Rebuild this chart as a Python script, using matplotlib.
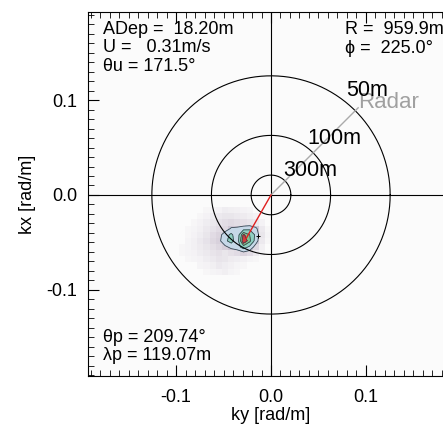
import numpy as np
import matplotlib.pyplot as plt
from matplotlib.colors import LinearSegmentedColormap, ListedColormap
from matplotlib.ticker import MultipleLocator

plt.rcParams['font.family'] = ['Liberation Sans', 'DejaVu Sans']

# wavelengths of the reference circles [m]
circle_wl = [50, 100, 300]
circle_lbl_pos = [(0.079, 0.110), (0.038, 0.060), (0.0125, 0.0255)]

# spectrum grid (ky columns, kx rows), energy in % of peak
ky_c = [-0.094, -0.0875, -0.081, -0.0745, -0.068, -0.0615, -0.055, -0.0485,
        -0.042, -0.0355, -0.029, -0.0225, -0.016, -0.0095, -0.003]
kx_c = [-0.081, -0.0745, -0.068, -0.0615, -0.055, -0.0485, -0.042,
        -0.0355, -0.029, -0.0225, -0.016]
energy = np.array([
    [0, 0, 0, 0, 3, 4, 5, 7, 4, 3, 0, 0, 0, 0, 0],
    [0, 0, 0, 4, 5, 7, 10, 8, 6, 4, 3, 0, 0, 0, 0],
    [0, 3, 4, 5, 8, 10, 13, 12, 9, 8, 6, 4, 3, 0, 0],
    [3, 4, 5, 8, 10, 13, 15, 12, 15, 18, 22, 18, 10, 4, 0],
    [3, 4, 6, 9, 12, 16, 20, 25, 35, 40, 60, 45, 20, 6, 0],
    [0, 4, 6, 10, 14, 20, 24, 45, 58, 38, 100, 75, 40, 10, 3],
    [0, 3, 5, 8, 12, 18, 22, 40, 55, 35, 88, 70, 45, 12, 4],
    [0, 3, 4, 6, 10, 14, 18, 20, 32, 34, 40, 45, 35, 10, 3],
    [0, 0, 3, 5, 8, 11, 14, 17, 19, 17, 15, 13, 10, 5, 0],
    [0, 0, 0, 3, 5, 8, 10, 12, 12, 10, 9, 7, 5, 0, 0],
    [0, 0, 0, 0, 3, 4, 5, 8, 7, 6, 5, 4, 0, 0, 0],
])

# summary parameters
adep = 18.20
u_cur = 0.31
theta_u = 171.5
rng = 959.9
phi = 225.0
theta_p = 209.74
lambda_p = 119.07

fig = plt.figure(figsize=(4.43, 4.24), dpi=100)
ax = fig.add_axes([88 / 443, 48 / 424, 366 / 443, 364 / 424])
ax.set_facecolor('#fbfbfb')

ky = np.array(ky_c)
kx = np.array(kx_c)
bg_cmap = LinearSegmentedColormap.from_list('bg', ['#fbfbfb', '#cfc6d4'])
ax.pcolormesh(ky, kx, np.clip(energy, 0, 30), cmap=bg_cmap, shading='nearest',
              vmin=0, vmax=30, zorder=1)
levels = [30, 50, 70, 85, 101]
fill_cmap = ListedColormap(['#c6d8e8', '#8fd0c2', '#80c48e', '#d43c3c'])
ax.contourf(ky, kx, energy, levels=levels, cmap=fill_cmap, zorder=2)
ax.contour(ky, kx, energy, levels=levels[:-1], colors='#3a4450', linewidths=0.6, zorder=3)
ax.plot(-0.0137, -0.043, marker='+', color='k', ms=3, mew=0.7, zorder=4)

# cross hair and circles
ax.axhline(0, color='k', lw=0.8, zorder=5)
ax.axvline(0, color='k', lw=0.8, zorder=5)
t = np.linspace(0, 2 * np.pi, 400)
for wl, (lx, ly) in zip(circle_wl, circle_lbl_pos):
    k = 2 * np.pi / wl
    ax.plot(k * np.cos(t), k * np.sin(t), color='k', lw=0.8, zorder=5)
    ax.text(lx, ly, f'{wl}m', fontsize=15.5, ha='left', va='center', zorder=7)

# radar direction
r_len = 0.13
a = np.deg2rad(phi - 180)
ax.plot([0, r_len * np.sin(a)], [0, r_len * np.cos(a)], color='#aaaaaa', lw=1.0, zorder=6)
ax.text(0.092, 0.098, 'Radar', color='#a0a0a0', fontsize=16, ha='left', va='center', zorder=6)

# peak direction
kp = 2 * np.pi / lambda_p
tp = np.deg2rad(theta_p)
ax.plot([0, kp * np.sin(tp)], [0, kp * np.cos(tp)], color='#e02020', lw=1.0, zorder=6)

fs = 13
tx = ax.transAxes
ax.text(0.041, 0.951, f'ADep =  {adep:.2f}m', transform=tx, fontsize=fs, va='center')
ax.text(0.041, 0.902, f'U =   {u_cur:.2f}m/s', transform=tx, fontsize=fs, va='center')
ax.text(0.041, 0.851, f'\u03b8u = {theta_u:.1f}\u00b0', transform=tx, fontsize=fs, va='center')
ax.text(0.702, 0.951, f'R =  {rng:.1f}m', transform=tx, fontsize=fs, va='center')
ax.text(0.702, 0.900, f'\u03d5 =  {phi:.1f}\u00b0', transform=tx, fontsize=fs, va='center')
ax.text(0.041, 0.107, f'\u03b8p = {theta_p:.2f}\u00b0', transform=tx, fontsize=fs, va='center')
ax.text(0.041, 0.055, f'\u03bbp = {lambda_p:.2f}m', transform=tx, fontsize=fs, va='center')

ax.set_xlim(-0.193, 0.193)
ax.set_ylim(-0.191, 0.193)
ax.xaxis.set_major_locator(MultipleLocator(0.1))
ax.yaxis.set_major_locator(MultipleLocator(0.1))
ax.xaxis.set_minor_locator(MultipleLocator(0.01))
ax.yaxis.set_minor_locator(MultipleLocator(0.01))
ax.xaxis.set_major_formatter(lambda v, p: f'{v:.1f}'.replace('\u2212', '-'))
ax.yaxis.set_major_formatter(lambda v, p: f'{v:.1f}'.replace('\u2212', '-'))
ax.tick_params(which='both', direction='in', top=True, right=True, labelsize=fs)
ax.tick_params(axis='x', which='major', pad=9)
ax.tick_params(axis='y', which='major', pad=8)
ax.tick_params(which='major', length=8, width=0.8)
ax.tick_params(which='minor', length=4, width=0.6)
for s in ax.spines.values():
    s.set_linewidth(0.8)
ax.set_xlabel('ky [rad/m]', fontsize=fs, labelpad=1)
ax.set_ylabel('kx [rad/m]', fontsize=fs, labelpad=7.5)

fig.savefig('out.png', dpi=100)
